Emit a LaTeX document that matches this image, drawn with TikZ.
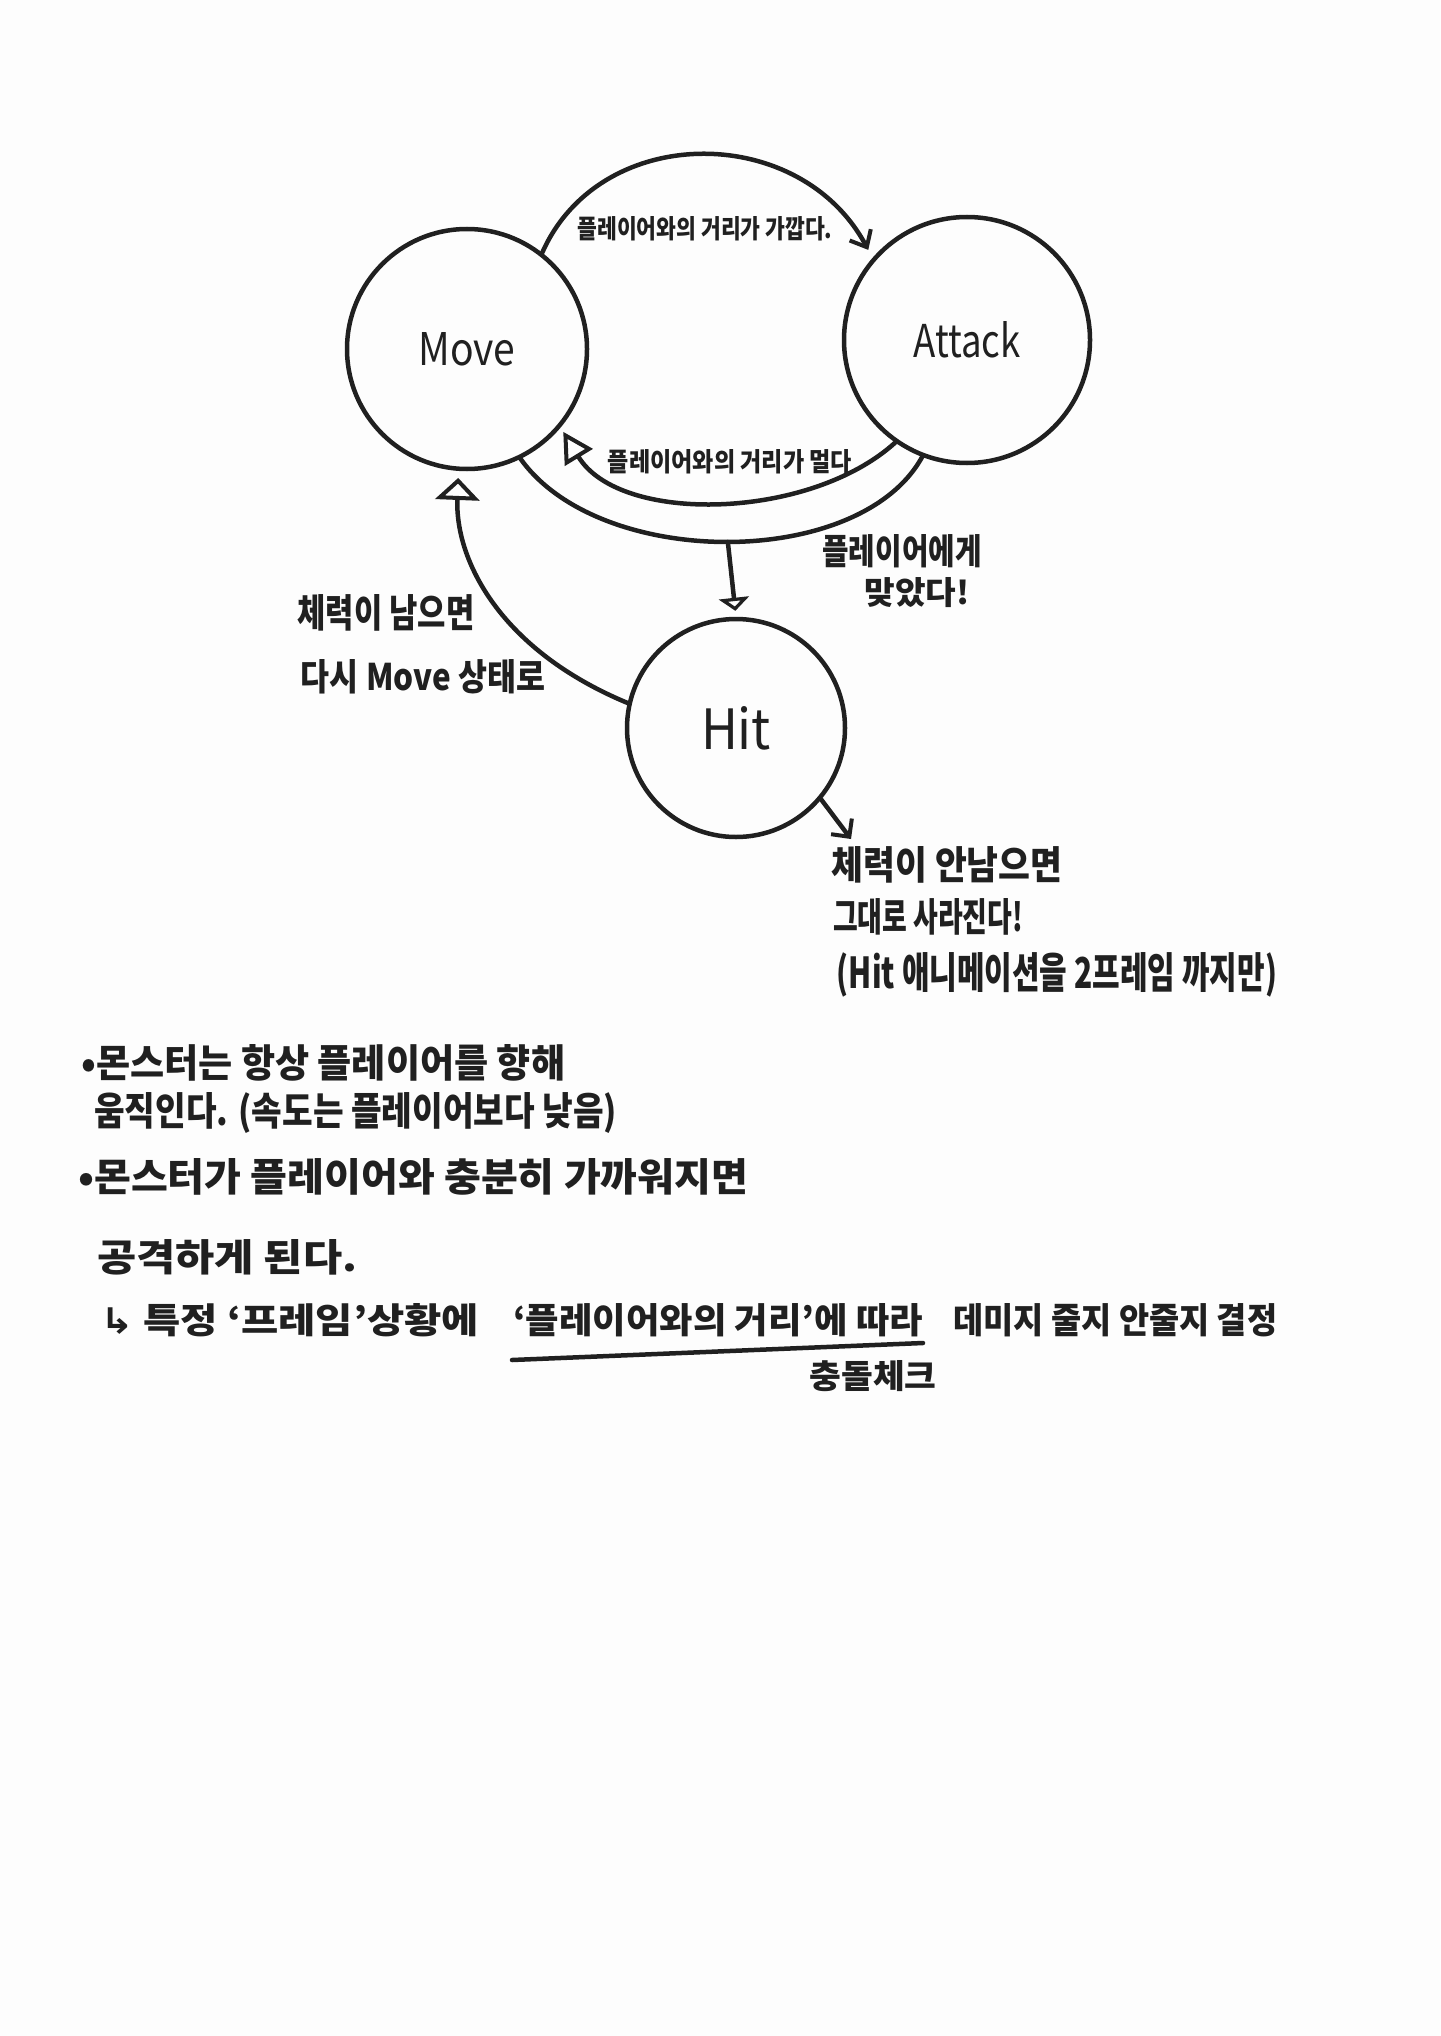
\documentclass[tikz,border=0pt]{standalone}
\usepackage{fontspec}
\setmainfont{Noto Sans CJK KR}
\newfontfamily\dv{DejaVu Sans}
\usetikzlibrary{arrows.meta}
\definecolor{ink}{HTML}{202020}
\definecolor{paper}{HTML}{FDFDFD}
\newcommand{\fit}[3]{\resizebox{#1pt}{#2pt}{\bfseries #3}}
\newcommand{\fitr}[3]{\resizebox{#1pt}{#2pt}{#3}}
\begin{document}
\begin{tikzpicture}[x=1pt,y=-1pt,
  state/.style={circle,draw=ink,line width=4.5pt,inner sep=0pt,text=ink},
  lbl/.style={inner sep=0pt,text=ink},
  link/.style={line width=4.5pt,draw=ink,line cap=round},
  barb/.style={-{Straight Barb[length=14pt,width=24pt,line width=4pt]}},
]
\fill[paper] (0,0) rectangle (1440,2036);
\useasboundingbox (0,0) rectangle (1440,2036);

% states
\node[state,minimum size=240pt] (move) at (467,349) {\fitr{97}{33}{Move}};
\node[state,minimum size=246pt] (attack) at (967,340) {\fitr{107}{36}{Attack}};
\node[state,minimum size=218pt] (hit) at (736,728) {\fitr{70}{43}{Hit}};

% Move -> Attack
\draw[link,barb,shorten >=9pt] (move.52) .. controls (600,122) and (800,122) .. (attack.139);
% Attack -> Move
\draw[link,-{Triangle[open,length=30pt,width=32pt,line width=4pt]},shorten >=5pt]
  (attack.-125) .. controls (810,520) and (620,525) .. (move.-40);
% both -> Hit
\draw[link] (move.-64) .. controls (600,570) and (860,570) .. (attack.-111) coordinate[pos=0.5] (mid);
\draw[link,-{Triangle[open,length=13pt,width=30pt,line width=4pt]},shorten >=6pt] (mid) -- (hit.north);
% Hit -> Move
\draw[link,-{Triangle[open,length=22pt,width=44pt,line width=4pt]},shorten >=7pt]
  (hit.167) .. controls (500,650) and (455,560) .. (move.-94);
% Hit -> gone
\coordinate (gone) at (851,839);
\draw[link,-{Straight Barb[length=13pt,width=26pt,line width=4pt]}] (hit.-40) -- (gone);

% labels
\node[lbl] (top) at (705,229) {\fit{255}{22}{플레이어와의 거리가 가깝다.}};
\node[lbl] (far) at (730,462) {\fit{244}{22}{플레이어와의 거리가 멀다}};
\node[lbl] (hita) at (902,551) {\fit{159}{30}{플레이어에게}};
\node[lbl] (hitb) at (917,593) {\fit{105}{27}{맞았다!}};
\node[lbl] (backa) at (386,613) {\fit{177}{33}{체력이 남으면}};
\node[lbl] (backb) at (423,677) {\fit{244}{31}{다시 Move 상태로}};
\node[lbl] (diea) at (947,865) {\fit{231}{33}{체력이 안남으면}};
\node[lbl] (dieb) at (928,917) {\fit{190}{33}{그대로 사라진다!}};
\node[lbl] (diec) at (1057,975) {\fit{440}{36}{(Hit 애니메이션을 2프레임 까지만)}};

% notes
\node[lbl,anchor=west] (na) at (81,1063) {\fit{484}{33}{•몬스터는 항상 플레이어를 향해}};
\node[lbl,anchor=west] (nb) at (94,1113) {\fit{523}{33}{움직인다. (속도는 플레이어보다 낮음)}};
\node[lbl,anchor=west] (nc) at (78,1177) {\fit{670}{33}{•몬스터가 플레이어와 충분히 가까워지면}};
\node[lbl,anchor=west] (nd) at (97,1257) {\fit{260}{32}{공격하게 된다.}};
\node[lbl,anchor=west] (ne) at (100,1320) {\fit{379}{30}{{\dv ↳} 특정 ‘프레임’상황에}};
\node[lbl,anchor=west] (nf) at (513,1320) {\fit{410}{30}{‘플레이어와의 거리’에 따라}};
\node[lbl,anchor=west] (ng) at (953,1320) {\fit{324}{30}{데미지 줄지 안줄지 결정}};
\coordinate (ula) at (512,1360);
\coordinate (ulb) at (923,1343);
\draw[link] (ula) -- (ulb);
\node[lbl] (nh) at (873,1376) {\fit{127}{28}{충돌체크}};
\end{tikzpicture}
\end{document}
